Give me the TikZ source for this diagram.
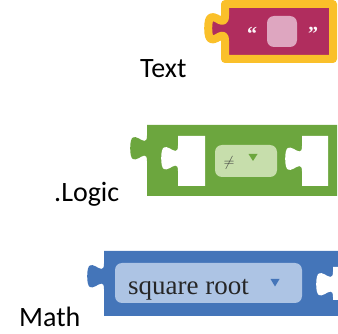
\documentclass[tikz,border=0pt]{standalone}
\usepackage{fontspec}
\setmainfont{Carlito}
\newfontfamily\blockfont{Liberation Serif}

\definecolor{textred}{RGB}{176,45,94}
\definecolor{selyellow}{RGB}{250,192,42}
\definecolor{textpink}{RGB}{222,166,192}
\definecolor{logicgreen}{RGB}{108,166,62}
\definecolor{logiclight}{RGB}{199,222,172}
\definecolor{mathblue}{RGB}{68,117,185}
\definecolor{mathlight}{RGB}{173,196,228}

% size of a puzzle tab
\newcommand{\tabw}{2.1}
\newcommand{\tabh}{1.7}
% block with a tab on its left side: x0, y0, x1, y1, top of tab
\newcommand{\puzzle}[5]{(#1,#2) -- (#1,#5)
  .. controls (#1,#5+10*\tabh) and (#1-8*\tabw,#5-8*\tabh) .. (#1-8*\tabw,#5+7.5*\tabh)
  .. controls (#1-8*\tabw,#5+23*\tabh) and (#1,#5+5*\tabh) .. (#1,#5+15*\tabh)
  -- (#1,#4) -- (#3,#4) -- (#3,#2) -- cycle}

\begin{document}
\begin{tikzpicture}[x=1pt,y=-1pt,
  blocklabel/.style={anchor=base west, inner sep=0pt, font=\fontsize{28}{28}\selectfont},
  quote/.style={text=white!90!textpink, font=\blockfont\bfseries\fontsize{20}{20}\selectfont},
  dropdown/.style={rounded corners=7pt}]
 \useasboundingbox (0,0) rectangle (338,334);

 % Text block
 \filldraw[draw=selyellow, fill=textred, line width=8pt, line join=round] \puzzle{225}{4}{333}{59}{15.5};
 \fill[textpink, rounded corners=7pt] (267,16) rectangle (297,47);
 \node (qopen) [quote] at (252,34) {“};
 \node (qclose) [quote] at (313,34) {”};
 \node (text) [blocklabel] at (140,78) {Text};

 % Logic block
 \fill[logicgreen] \puzzle{147}{125}{337}{196}{135.5};
 \fill[white] \puzzle{178}{136}{205}{186}{145.5};
 \fill[white] \puzzle{302}{136}{328}{186}{146};
 \fill[logiclight, dropdown] (215,145) rectangle (277,177);
 \node (neq) [text=black!75, font=\fontsize{14}{14}\selectfont] at (229,163) {$\neq$};
 \fill[logicgreen] (248.5,154) -- (257.5,154) -- (253,161) -- cycle;
 \node (logic) [blocklabel] at (54,202) {.Logic};

 % Math block
 \fill[mathblue] \puzzle{104}{251}{338}{316}{263.5};
 \fill[white] \puzzle{333}{267}{345}{300}{271.5};
 \fill[mathlight, dropdown] (115,263) rectangle (302,303);
 \node (sqrt) [anchor=base west, inner sep=0pt, text=black!85, font=\blockfont\fontsize{27}{27}\selectfont] at (128,295) {square root};
 \fill[mathblue] (270.5,279) -- (279.5,279) -- (275,286.5) -- cycle;
 \node (math) [blocklabel] at (19,327) {Math};
\end{tikzpicture}
\end{document}
